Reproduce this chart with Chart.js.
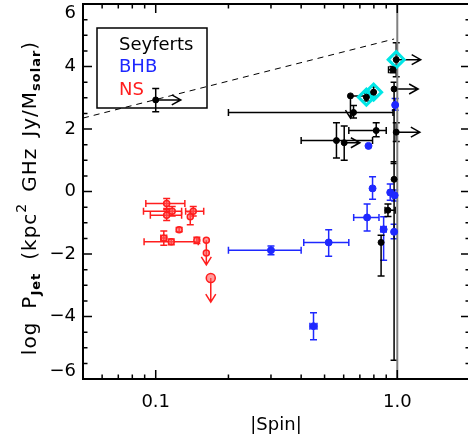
<!DOCTYPE html>
<html>
<head>
<meta charset="utf-8">
<script src="https://cdn.jsdelivr.net/npm/chart.js@4.4.1/dist/chart.umd.min.js"></script>
<style>
  html, body { margin: 0; padding: 0; background: #fff; overflow: hidden; }
  #wrap { width: 468px; height: 438px; overflow: hidden; }
</style>
</head>
<body>
<div id="wrap"><canvas id="c" width="470" height="438"></canvas></div>
<script>
// Seyferts (black)
const seyX     = [0.10, 0.99, 0.96, 0.97, 0.798, 0.745, 0.64, 0.659, 0.818, 0.99, 0.56, 0.603, 0.97, 0.915, 0.857];
const seyY     = [2.93, 4.22, 3.90, 3.28, 3.18, 3.02, 3.06, 2.53, 1.95, 1.90, 1.63, 1.56, 0.39, -0.60, -1.63];
const seyXlo   = [null, null, 0.92, null, null, null, null, 0.20, 0.63, null, 0.40, null, null, 0.89, null];
const seyXhi   = [null, null, 0.99, null, null, null, 0.745, 0.96, 0.90, null, 0.79, null, null, 0.98, null];
const seyYlo   = [2.55, 3.67, 3.80, 0.90, 3.05, 2.90, null, 2.35, 1.75, 1.60, 1.07, 1.00, -5.40, -0.80, -2.70];
const seyYhi   = [3.30, 4.76, 4.00, 3.50, 3.35, 3.15, null, 2.75, 2.20, 2.20, 2.20, 2.10, 0.95, -0.40, -1.40];
const seyRight = [0.127, 1.25, null, 1.22, null, null, null, null, null, 1.24, null, 0.70, null, null, null];
const seyDown  = [null, null, null, null, null, null, 2.35, null, null, null, null, null, null, null, null];

// Seyferts marked with cyan diamonds
const cyanX = [0.99, 0.798, 0.745];
const cyanY = [4.22, 3.18, 3.02];

// BHB (blue)
const bhbX   = [0.98, 0.76, 0.79, 0.935, 0.975, 0.75, 0.878, 0.97, 0.52, 0.30, 0.45];
const bhbY   = [2.77, 1.46, 0.10, -0.03, -0.12, -0.83, -1.21, -1.29, -1.63, -1.88, -4.31];
const bhbXlo = [null, null, null, 0.92, 0.955, 0.66, 0.855, null, 0.41, 0.20, 0.435];
const bhbXhi = [null, null, null, 0.95, 0.995, 0.84, 0.90, null, 0.63, 0.40, 0.465];
const bhbYlo = [2.60, null, -0.25, -0.28, -0.30, -1.26, -2.20, -1.51, -2.07, -2.02, -4.74];
const bhbYhi = [2.98, null, 0.47, 0.24, 0.05, -0.40, -0.81, -1.05, -1.22, -1.74, -3.88];

// NS (red)
const nsX    = [0.111, 0.117, 0.111, 0.143, 0.139, 0.125, 0.108, 0.116, 0.148, 0.162, 0.162, 0.169];
const nsY    = [-0.38, -0.63, -0.76, -0.63, -0.81, -1.22, -1.49, -1.61, -1.56, -1.56, -1.97, -2.77];
const nsXlo  = [0.091, 0.089, 0.095, 0.133, null, null, 0.105, 0.0895, null, null, null, null];
const nsXhi  = [0.132, 0.128, 0.128, 0.158, null, null, 0.111, 0.150, null, null, null, null];
const nsYlo  = [-0.54, -0.78, -0.93, -0.78, -1.06, -1.29, -1.72, -1.70, -1.66, null, null, null];
const nsYhi  = [-0.22, -0.48, -0.58, -0.48, -0.65, -1.15, -1.26, -1.52, -1.46, null, null, null];
const nsDown = [null, null, null, null, null, null, null, null, null, -2.35, null, -3.54];
const nsSize = [3, 3, 3, 3, 3, 3, 3, 3, 3, 3, 3, 4.5];

// reference lines
const spinMaxX = [1, 1];
const spinMaxY = [-6, 6];
const dashX = [0.05, 0.97];
const dashY = [2.35, 4.88];

// axis ticks
const xMajor = [0.1, 1];
const xMajorLabels = ['0.1', '1.0'];
const xMinor = [0.06, 0.07, 0.08, 0.09, 0.2, 0.3, 0.4, 0.5, 0.6, 0.7, 0.8, 0.9];
const yMajor = [-6, -4, -2, 0, 2, 4, 6];
const yMinor = [-5.5, -5, -4.5, -3.5, -3, -2.5, -1.5, -1, -0.5, 0.5, 1, 1.5, 2.5, 3, 3.5, 4.5, 5, 5.5];

const legendNames = ['Seyferts', 'BHB', 'NS'];

const BLACK = '#000000';
const BLUE = 'rgb(30,40,255)';
const RED = 'rgb(255,30,30)';
const FONT = '"DejaVu Sans", sans-serif';

const pts = (xs, ys) => xs.map((x, i) => ({ x: x, y: ys[i] }));

function errorBars(ctx, sx, sy, color, xs, ys, xlo, xhi, ylo, yhi) {
    ctx.strokeStyle = color;
    ctx.lineWidth = 1.5;
    const cap = 3.5;
    xs.forEach((x, i) => {
        const px = sx.getPixelForValue(x);
        const py = sy.getPixelForValue(ys[i]);
        ctx.beginPath();
        if (xlo[i] != null || xhi[i] != null) {
            const a = sx.getPixelForValue(xlo[i] != null ? xlo[i] : x);
            const b = sx.getPixelForValue(xhi[i] != null ? xhi[i] : x);
            ctx.moveTo(a, py); ctx.lineTo(b, py);
            if (xlo[i] != null) { ctx.moveTo(a, py - cap); ctx.lineTo(a, py + cap); }
            if (xhi[i] != null) { ctx.moveTo(b, py - cap); ctx.lineTo(b, py + cap); }
        }
        if (ylo[i] != null || yhi[i] != null) {
            const a = sy.getPixelForValue(ylo[i] != null ? ylo[i] : ys[i]);
            const b = sy.getPixelForValue(yhi[i] != null ? yhi[i] : ys[i]);
            ctx.moveTo(px, a); ctx.lineTo(px, b);
            if (ylo[i] != null) { ctx.moveTo(px - cap, a); ctx.lineTo(px + cap, a); }
            if (yhi[i] != null) { ctx.moveTo(px - cap, b); ctx.lineTo(px + cap, b); }
        }
        ctx.stroke();
    });
}

function rightArrows(ctx, sx, sy, color, xs, ys, ends) {
    ctx.strokeStyle = color;
    ctx.lineWidth = 1.5;
    xs.forEach((x, i) => {
        if (ends[i] == null) return;
        const px = sx.getPixelForValue(x);
        const py = sy.getPixelForValue(ys[i]);
        const ex = sx.getPixelForValue(ends[i]);
        ctx.beginPath();
        ctx.moveTo(px, py); ctx.lineTo(ex, py);
        ctx.moveTo(ex - 9, py - 5); ctx.lineTo(ex, py); ctx.lineTo(ex - 9, py + 5);
        ctx.stroke();
    });
}

function downArrows(ctx, sx, sy, color, xs, ys, ends) {
    ctx.strokeStyle = color;
    ctx.lineWidth = 1.5;
    xs.forEach((x, i) => {
        if (ends[i] == null) return;
        const px = sx.getPixelForValue(x);
        const py = sy.getPixelForValue(ys[i]);
        const ey = sy.getPixelForValue(ends[i]);
        ctx.beginPath();
        ctx.moveTo(px, py); ctx.lineTo(px, ey);
        ctx.moveTo(px - 5, ey - 8); ctx.lineTo(px, ey); ctx.lineTo(px + 5, ey - 8);
        ctx.stroke();
    });
}

const idlFrame = {
    id: 'idlFrame',
    beforeDatasetsDraw(chart) {
        const ctx = chart.ctx;
        const sx = chart.scales.x, sy = chart.scales.y;
        ctx.save();
        errorBars(ctx, sx, sy, RED, nsX, nsY, nsXlo, nsXhi, nsYlo, nsYhi);
        downArrows(ctx, sx, sy, RED, nsX, nsY, nsDown);
        errorBars(ctx, sx, sy, BLUE, bhbX, bhbY, bhbXlo, bhbXhi, bhbYlo, bhbYhi);
        errorBars(ctx, sx, sy, BLACK, seyX, seyY, seyXlo, seyXhi, seyYlo, seyYhi);
        rightArrows(ctx, sx, sy, BLACK, seyX, seyY, seyRight);
        downArrows(ctx, sx, sy, BLACK, seyX, seyY, seyDown);
        ctx.restore();
    },
    afterDraw(chart) {
        const ctx = chart.ctx;
        const a = chart.chartArea;
        const sx = chart.scales.x, sy = chart.scales.y;
        ctx.save();

        // frame (right edge falls outside the picture)
        ctx.strokeStyle = '#000';
        ctx.lineWidth = 2;
        ctx.beginPath();
        ctx.moveTo(a.right, a.top); ctx.lineTo(a.left, a.top);
        ctx.lineTo(a.left, a.bottom); ctx.lineTo(a.right, a.bottom);
        ctx.stroke();

        // inward ticks
        ctx.lineWidth = 1.5;
        ctx.beginPath();
        const xt = (v, len) => {
            const p = sx.getPixelForValue(v);
            ctx.moveTo(p, a.bottom); ctx.lineTo(p, a.bottom - len);
            ctx.moveTo(p, a.top); ctx.lineTo(p, a.top + len);
        };
        const yt = (v, len) => {
            const p = sy.getPixelForValue(v);
            ctx.moveTo(a.left, p); ctx.lineTo(a.left + len, p);
            ctx.moveTo(a.right, p); ctx.lineTo(a.right - len, p);
        };
        xMajor.forEach(v => xt(v, 9));
        xMinor.forEach(v => xt(v, 4.5));
        yMajor.forEach(v => yt(v, 9));
        yMinor.forEach(v => yt(v, 4.5));
        ctx.stroke();

        // tick labels
        ctx.fillStyle = '#000';
        ctx.font = '18px ' + FONT;
        ctx.textAlign = 'right';
        ctx.textBaseline = 'middle';
        yMajor.forEach(v => {
            let p = sy.getPixelForValue(v);
            p = Math.min(Math.max(p, 13), 371);
            const t = v < 0 ? '\u2212' + Math.abs(v) : String(v);
            ctx.fillText(t, a.left - 7, p);
        });
        ctx.textAlign = 'center';
        xMajor.forEach((v, i) => {
            ctx.fillText(xMajorLabels[i], sx.getPixelForValue(v), a.bottom + 23);
        });

        // x title
        ctx.fillText('|Spin|', 276, 425);

        // y title with sub/superscripts: [text, size, shift, weight, gap after]
        const parts = [
            ['log', 20, 0, '', 13],
            ['P', 20, 0, '', 0],
            ['Jet', 13, 6, 'bold ', 13],
            ['(kpc', 20, 0, '', 0],
            ['2', 14, -9, '', 11],
            ['GHz', 20, 0, '', 11],
            ['Jy/M', 20, 0, '', 0],
            ['solar', 13, 6, 'bold ', 0],
            [')', 20, 0, '', 0]
        ];
        ctx.letterSpacing = '1px';
        let total = 0;
        parts.forEach(p => {
            ctx.font = p[3] + p[1] + 'px ' + FONT;
            total += ctx.measureText(p[0]).width + p[4];
        });
        ctx.translate(31, 198);
        ctx.rotate(-Math.PI / 2);
        ctx.textAlign = 'left';
        let cx = -total / 2;
        parts.forEach(p => {
            ctx.font = p[3] + p[1] + 'px ' + FONT;
            ctx.fillText(p[0], cx, p[2]);
            cx += ctx.measureText(p[0]).width + p[4];
        });
        ctx.setTransform(1, 0, 0, 1, 0, 0);
        ctx.letterSpacing = '0px';

        // legend box
        ctx.lineWidth = 1.5;
        ctx.strokeStyle = '#000';
        ctx.strokeRect(97, 28, 110, 80);
        ctx.font = '18px ' + FONT;
        ctx.textAlign = 'left';
        const legCols = [BLACK, BLUE, RED];
        legendNames.forEach((n, i) => {
            ctx.fillStyle = legCols[i];
            ctx.fillText(n, 119, 45 + i * 22.5);
        });
        ctx.restore();
    }
};

new Chart(document.getElementById('c'), {
    type: 'scatter',
    data: {
        datasets: [
            {
                label: 'Seyferts',
                data: pts(seyX, seyY),
                backgroundColor: BLACK,
                borderColor: BLACK,
                pointRadius: 3,
                borderWidth: 1,
                order: 0
            },
            {
                label: 'cyan',
                data: pts(cyanX, cyanY),
                pointStyle: 'rectRot',
                backgroundColor: 'rgba(0,0,0,0)',
                borderColor: 'rgb(0,230,230)',
                pointRadius: 8,
                borderWidth: 3,
                order: 1
            },
            {
                label: 'BHB',
                data: pts(bhbX, bhbY),
                backgroundColor: BLUE,
                borderColor: BLUE,
                pointRadius: 3.5,
                borderWidth: 1,
                order: 2
            },
            {
                label: 'NS',
                data: pts(nsX, nsY),
                backgroundColor: 'rgba(255,90,90,0.6)',
                borderColor: RED,
                pointRadius: nsSize,
                borderWidth: 1.5,
                order: 3
            },
            {
                type: 'line',
                label: 'spin limit',
                data: pts(spinMaxX, spinMaxY),
                borderColor: 'rgb(128,128,128)',
                borderWidth: 2,
                pointRadius: 0,
                order: 6
            },
            {
                type: 'line',
                label: 'dashed',
                data: pts(dashX, dashY),
                borderColor: '#000',
                borderWidth: 1,
                borderDash: [6, 5],
                pointRadius: 0,
                order: 7
            }
        ]
    },
    options: {
        responsive: false,
        animation: false,
        devicePixelRatio: 1,
        layout: { autoPadding: false, padding: { top: 4, right: 0, left: 0, bottom: 0 } },
        plugins: { legend: { display: false }, tooltip: { enabled: false } },
        scales: {
            x: {
                type: 'logarithmic',
                min: 0.05,
                max: 2,
                grid: { display: false },
                border: { display: false },
                ticks: { display: false },
                afterFit: s => { s.height = 59; }
            },
            y: {
                min: -6,
                max: 6,
                grid: { display: false },
                border: { display: false },
                ticks: { display: false },
                afterFit: s => { s.width = 83; }
            }
        }
    },
    plugins: [idlFrame]
});
</script>
</body>
</html>
